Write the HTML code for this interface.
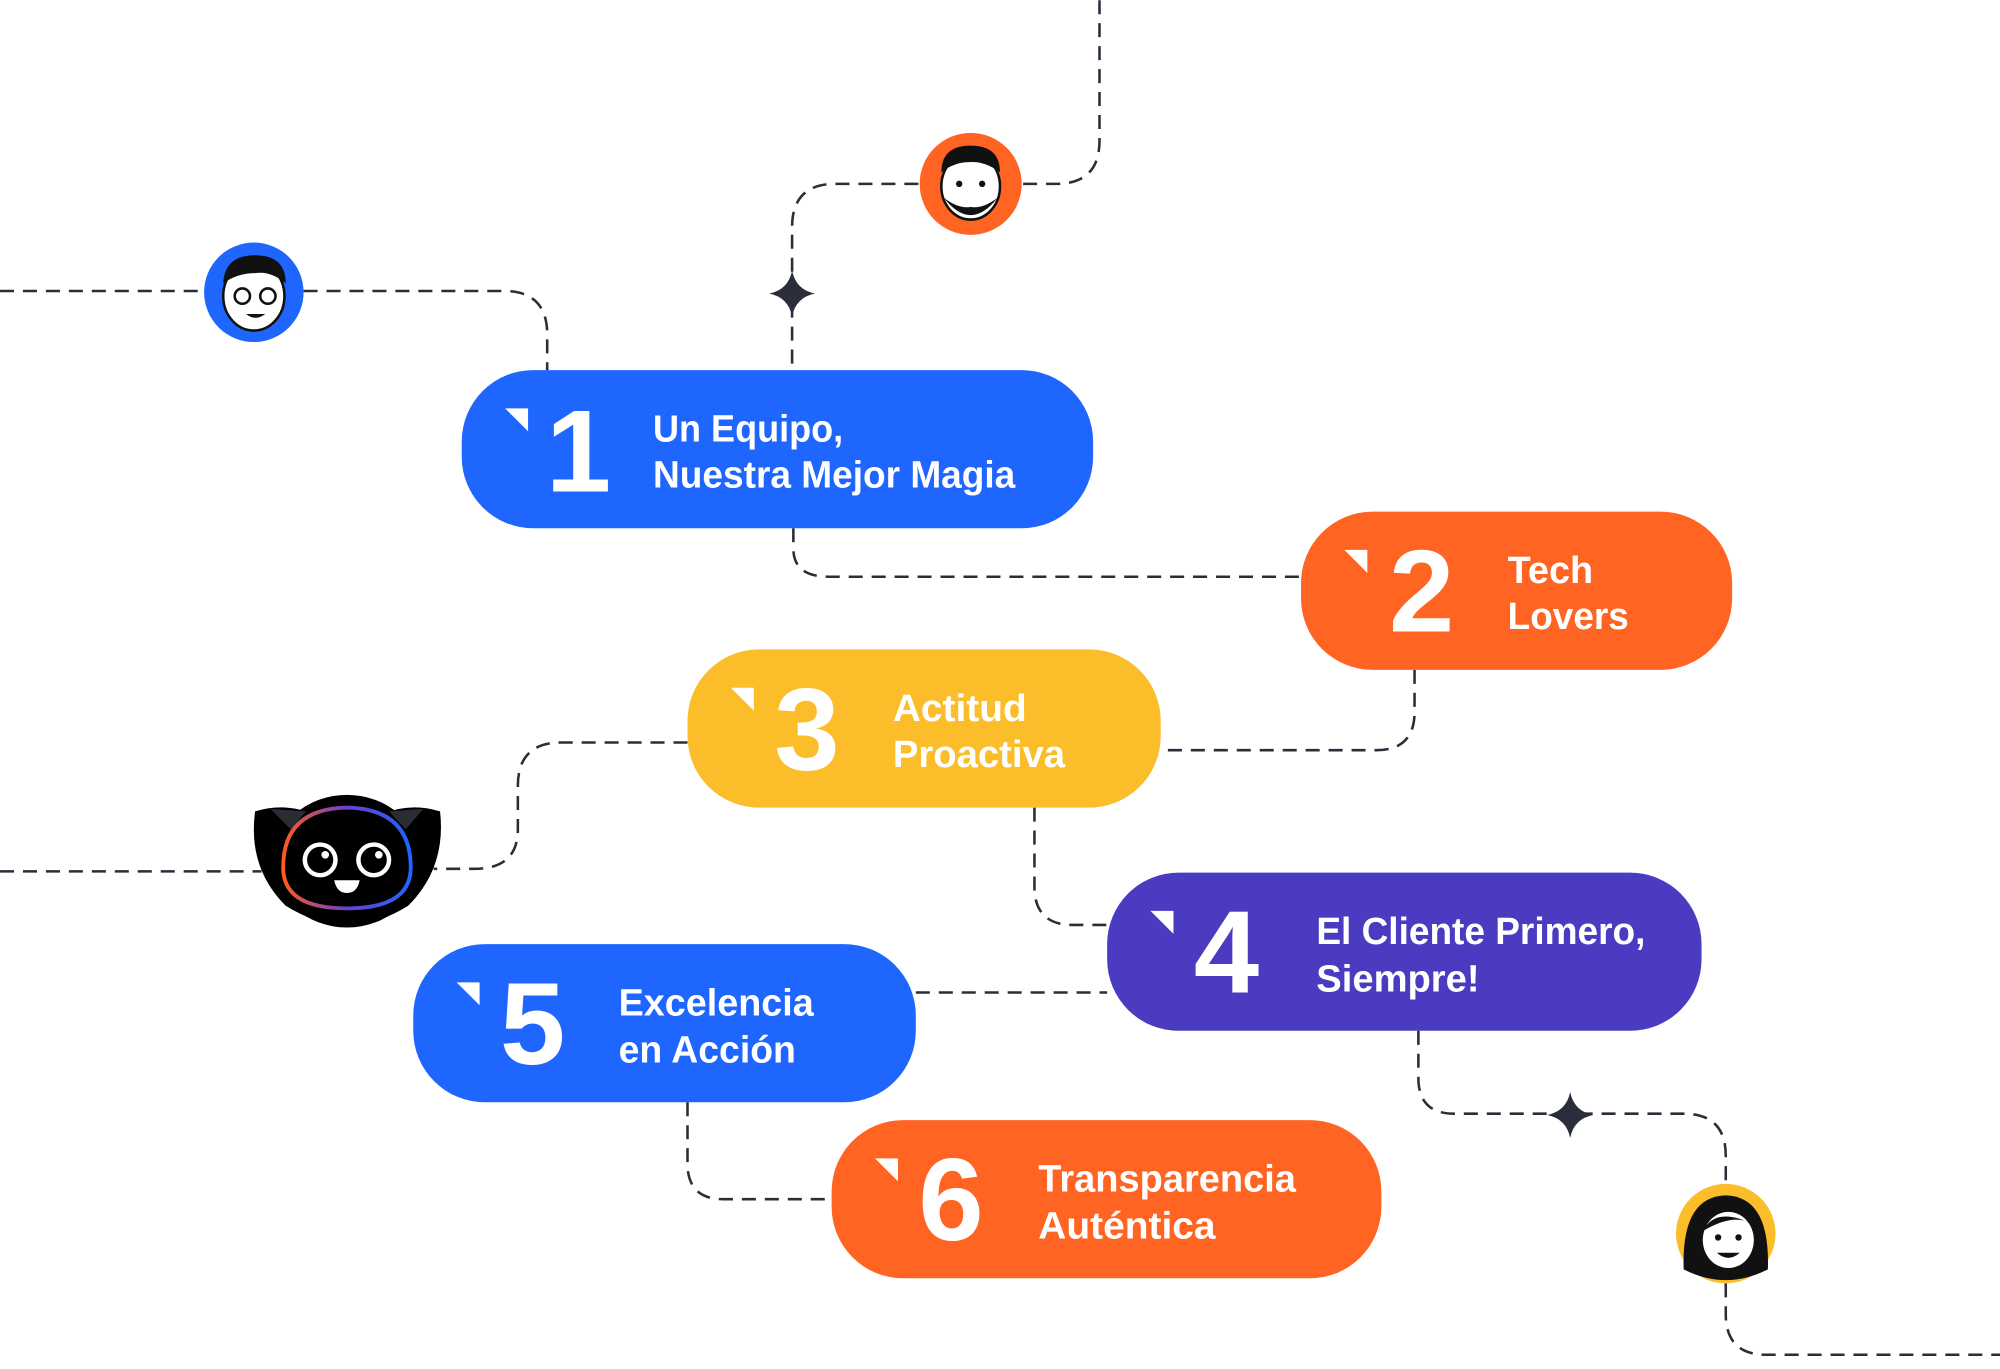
<!DOCTYPE html>
<html><head><meta charset="utf-8"><style>
html,body{margin:0;padding:0;background:#fff;width:2000px;height:1369px;overflow:hidden}
svg{display:block}
text{font-family:"Liberation Sans",sans-serif;font-weight:bold;fill:#fff}
</style></head><body>
<svg width="2000" height="1369" viewBox="0 0 1568 1073" xmlns="http://www.w3.org/2000/svg">
<defs>
<linearGradient id="g" x1="0" x2="1" y1="0" y2="0"><stop offset="0" stop-color="#ff5a1f"/><stop offset="0.5" stop-color="#6a3fd0"/><stop offset="1" stop-color="#1f66ff"/></linearGradient>
</defs>
<g fill="none" stroke="#2a2d3a" stroke-width="2" stroke-dasharray="11 7">
<path d="M862 0 V110 Q862 144 828 144 H800"/>
<path d="M720 144 H655 Q621 144 621 178 V285"/>
<path d="M0 228 H160"/>
<path d="M238 228 H395 Q429 228 429 262 V290"/>
<path d="M622 414 V430 Q622 452 650 452 H1020"/>
<path d="M1109 525 V558 Q1109 588 1079 588 H910"/>
<path d="M539 582 H440 Q406 582 406 616 V650 Q406 681 372 681 H340"/>
<path d="M0 683 H205"/>
<path d="M811 633 V695 Q811 725 841 725 H868"/>
<path d="M718 778 H868"/>
<path d="M539 864 V912 Q539 940 567 940 H652"/>
<path d="M1112 808 V845 Q1112 873 1140 873 H1320 Q1353 873 1353 906 V928"/>
<path d="M1353 1006 V1030 Q1353 1062 1385 1062 H1568"/>
</g>
<g fill="#2a2d3a">
<path d="M621 212 Q624 227 639 230 Q624 233 621 248 Q618 233 603 230 Q618 227 621 212Z"/>
<path d="M1231 856 Q1234 871 1249 874 Q1234 877 1231 892 Q1228 877 1213 874 Q1228 871 1231 856Z"/>
</g>
<!-- avatars -->
<circle cx="199" cy="229" r="39" fill="#1f66ff"/>
<ellipse cx="199" cy="232" rx="24" ry="27" fill="#fff" stroke="#111" stroke-width="2"/>
<path d="M175 222 Q176 200 200 200 Q224 200 224 222 Q212 212 200 214 Q186 214 175 222Z" fill="#111"/>
<circle cx="190" cy="232" r="6" fill="none" stroke="#111" stroke-width="2"/><circle cx="210" cy="232" r="6" fill="none" stroke="#111" stroke-width="2"/>
<path d="M193 246 Q200 252 208 246" fill="#111"/>
<circle cx="761" cy="144" r="40" fill="#ff6422"/>
<ellipse cx="761" cy="146" rx="23" ry="26" fill="#fff" stroke="#111" stroke-width="2"/>
<path d="M738 135 Q738 114 761 114 Q784 114 784 135 Q772 126 760 127 Q748 127 738 135Z" fill="#111"/>
<path d="M740 155 Q761 182 782 155 Q770 164 761 162 Q752 164 740 155Z" fill="#111"/>
<circle cx="752" cy="144" r="2.5" fill="#111"/><circle cx="770" cy="144" r="2.5" fill="#111"/>
<circle cx="1353" cy="967" r="39" fill="#fbbd2a"/>
<path d="M1320 995 Q1318 938 1353 937 Q1388 938 1386 995 Q1353 1012 1320 995Z" fill="#111"/>
<ellipse cx="1355" cy="972" rx="20" ry="22" fill="#fff"/>
<path d="M1335 965 Q1345 945 1375 960 Q1360 950 1335 965Z" fill="#111"/>
<circle cx="1347" cy="970" r="2.5" fill="#111"/><circle cx="1363" cy="970" r="2.5" fill="#111"/>
<path d="M1346 982 Q1355 990 1364 982Z" fill="#111"/>
<!-- cat -->
<path d="M200 636 Q225 628 250 640 L295 640 Q320 628 345 636 Q350 680 320 710 Q272 740 224 710 Q194 680 200 636Z" fill="#000"/>
<ellipse cx="272" cy="675" rx="58" ry="52" fill="#000"/>
<path d="M212 634 L240 636 L228 650Z M332 634 L305 636 L318 650Z" fill="#2a2d33"/>
<path d="M222 680 Q222 634 272 633 Q322 634 322 680 Q322 712 272 712 Q222 712 222 680Z" fill="none" stroke="url(#g)" stroke-width="3"/>
<circle cx="251" cy="674" r="12" fill="none" stroke="#fff" stroke-width="3.5"/><circle cx="293" cy="674" r="12" fill="none" stroke="#fff" stroke-width="3.5"/>
<circle cx="255" cy="670" r="3" fill="#fff"/><circle cx="297" cy="670" r="3" fill="#fff"/>
<path d="M262 690 H282 Q280 700 272 700 Q264 700 262 690Z" fill="#fff"/>
<!-- boxes -->
<g>
<rect x="362" y="290" width="495" height="124" rx="56" fill="#1f66ff"/>
<path d="M396 320 H414 V338Z" fill="#fff"/>
<text x="428" y="385" font-size="92">1</text>
<text x="512" y="346" font-size="30" textLength="149" lengthAdjust="spacingAndGlyphs">Un Equipo,</text>
<text x="512" y="382" font-size="30" textLength="284" lengthAdjust="spacingAndGlyphs">Nuestra Mejor Magia</text>

<rect x="1020" y="401" width="338" height="124" rx="56" fill="#ff6422"/>
<path d="M1054 431 H1072 V449Z" fill="#fff"/>
<text x="1089" y="495" font-size="92">2</text>
<text x="1182" y="457" font-size="30" textLength="67" lengthAdjust="spacingAndGlyphs">Tech</text>
<text x="1182" y="493" font-size="30" textLength="95" lengthAdjust="spacingAndGlyphs">Lovers</text>

<rect x="539" y="509" width="371" height="124" rx="56" fill="#fbbd2a"/>
<path d="M573 539 H591 V557Z" fill="#fff"/>
<text x="607" y="603" font-size="92">3</text>
<text x="700" y="565" font-size="30" textLength="105" lengthAdjust="spacingAndGlyphs">Actitud</text>
<text x="700" y="601" font-size="30" textLength="135" lengthAdjust="spacingAndGlyphs">Proactiva</text>

<rect x="868" y="684" width="466" height="124" rx="56" fill="#4b3bc0"/>
<path d="M902 714 H920 V732Z" fill="#fff"/>
<text x="936" y="778" font-size="92">4</text>
<text x="1032" y="740" font-size="30" textLength="258" lengthAdjust="spacingAndGlyphs">El Cliente Primero,</text>
<text x="1032" y="777" font-size="30" textLength="128" lengthAdjust="spacingAndGlyphs">Siempre!</text>

<rect x="324" y="740" width="394" height="124" rx="56" fill="#1f66ff"/>
<path d="M358 770 H376 V788Z" fill="#fff"/>
<text x="392" y="834" font-size="92">5</text>
<text x="485" y="796" font-size="30" textLength="153" lengthAdjust="spacingAndGlyphs">Excelencia</text>
<text x="485" y="833" font-size="30" textLength="139" lengthAdjust="spacingAndGlyphs">en Acción</text>

<rect x="652" y="878" width="431" height="124" rx="56" fill="#ff6422"/>
<path d="M686 908 H704 V926Z" fill="#fff"/>
<text x="720" y="972" font-size="92">6</text>
<text x="814" y="934" font-size="30" textLength="202" lengthAdjust="spacingAndGlyphs">Transparencia</text>
<text x="814" y="971" font-size="30" textLength="139" lengthAdjust="spacingAndGlyphs">Auténtica</text>
</g>
</svg>
</body></html>
